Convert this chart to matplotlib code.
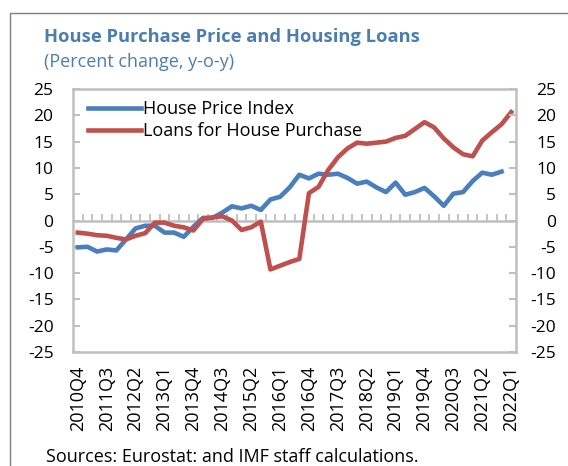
import numpy as np
import matplotlib.pyplot as plt
from matplotlib.patches import Rectangle

plt.rcParams['font.family'] = ['Open Sans', 'DejaVu Sans']
plt.rcParams['axes.unicode_minus'] = False

# quarterly, 2010Q4 .. 2022Q1
years = range(2010, 2023)
quarters = [f"{y}Q{q}" for y in years for q in range(1, 5)]
quarters = quarters[quarters.index("2010Q4"):quarters.index("2022Q1") + 1]

house_price = [-5.1, -5.0, -5.9, -5.5, -5.7, -3.6, -1.5, -1.0, -1.0, -2.3,
               -2.3, -3.1, -1.2, 0.5, 0.5, 1.5, 2.7, 2.3, 2.8, 2.0,
               4.0, 4.5, 6.3, 8.7, 8.0, 8.9, 8.7, 8.9, 8.1, 7.0,
               7.4, 6.3, 5.4, 7.2, 4.9, 5.4, 6.2, 4.6, 2.8, 5.1,
               5.4, 7.5, 9.1, 8.7, 9.3, np.nan]
loans = [-2.3, -2.5, -2.8, -2.9, -3.3, -3.6, -2.9, -2.4, -0.4, -0.4,
         -1.0, -1.3, -1.9, 0.3, 0.6, 0.8, 0.0, -1.8, -1.3, -0.2,
         -9.3, -8.6, -7.9, -7.3, 5.2, 6.4, 9.6, 12.0, 13.7, 14.8,
         14.6, 14.8, 15.0, 15.7, 16.1, 17.4, 18.7, 17.7, 15.6, 13.9,
         12.6, 12.2, 15.2, 16.8, 18.3, 20.6]

x = np.arange(len(quarters))
blue = '#4a7ebf'
red = '#c0504d'
grey = '#bfbfbf'

fig = plt.figure(figsize=(5.68, 4.66), dpi=100)
ax = fig.add_axes([73/568, 1 - 352/466, (516 - 73)/568, (352 - 89)/466])

ax.plot(x, house_price, color=blue, lw=3.3, zorder=3, label='House Price Index')
ax.plot(x, loans, color=red, lw=3.3, zorder=3, label='Loans for House Purchase')

ax.set_xlim(-0.5, len(x) - 0.5)
ax.set_ylim(-25, 25)
ax.set_yticks(range(-25, 30, 5))
ax.tick_params(axis='y', direction='in', length=5, color=grey, width=1.5,
               labelsize=12.5, pad=14)

# zero line as the category axis, small ticks between quarters
ax.spines['bottom'].set_position(('data', 0))
ax.set_xticks(np.arange(0.5, len(x) - 0.5, 1))
ax.tick_params(axis='x', direction='in', length=5, color=grey, width=1.3,
               labelbottom=False)
for s in ax.spines.values():
    s.set_color(grey)
    s.set_linewidth(1.8)

# quarter labels along the bottom edge of the plot area
bot = ax.secondary_xaxis('bottom')
bot.set_xticks(x[::3])
bot.set_xticklabels(quarters[::3], rotation=90, fontsize=13)
bot.tick_params(length=0, pad=10)
bot.spines['bottom'].set_color(grey)
bot.spines['bottom'].set_linewidth(1.8)

# right hand axis, same scale
ax2 = ax.twinx()
ax2.set_ylim(-25, 25)
ax2.set_yticks(range(-25, 30, 5))
ax2.tick_params(axis='y', direction='in', length=5, color=grey, width=1.5,
                labelsize=12.5, pad=29)
for lab in ax2.get_yticklabels():
    lab.set_horizontalalignment('right')
for s in ax2.spines.values():
    s.set_visible(False)

ax.legend(loc='upper left', frameon=False, fontsize=13, handlelength=2.9,
          handletextpad=0.15, labelspacing=0.25, borderaxespad=0.2,
          bbox_to_anchor=(0.01, 1.0))

fig.text(44/568, 1 - 37/466, 'House Purchase Price and Housing Loans',
         color='#4a7eb0', fontsize=13.2, fontweight='bold', va='center')
fig.text(44/568, 1 - 62/466, '(Percent change, y-o-y)',
         color='#4a7eb0', fontsize=13, va='center')
fig.text(46/568, 1 - 457/466, 'Sources: Eurostat: and IMF staff calculations.',
         fontsize=13, va='center')

fig.patches.append(Rectangle((10/568, -0.1), 1.1, 1.1 - 13/466,
                             transform=fig.transFigure, fill=False,
                             edgecolor='#7f7f7f', lw=1, figure=fig))

fig.savefig('out.png', dpi=100)
